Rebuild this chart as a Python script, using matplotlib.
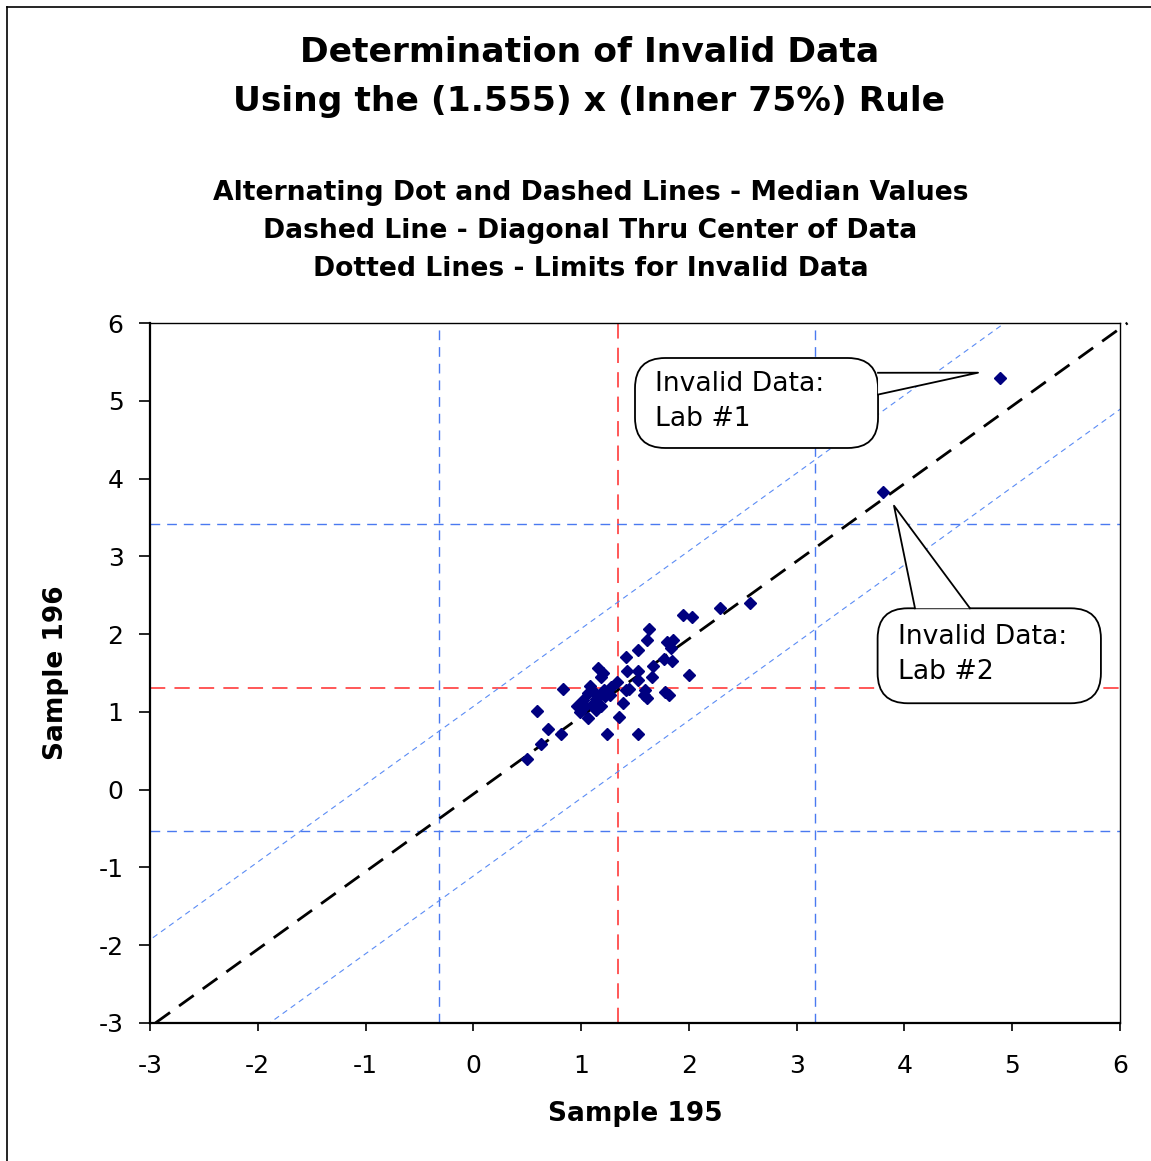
import matplotlib
matplotlib.use("Agg")
import matplotlib.pyplot as plt
from matplotlib.patches import FancyBboxPatch, Polygon
import numpy as np

plt.rcParams['font.family'] = ['DejaVu Sans']
plt.rcParams['axes.unicode_minus'] = False

# lab results
sample_195 = [0.50, 0.63, 0.69, 0.81, 0.59, 0.83, 0.96, 0.99, 1.06, 1.24,
              1.35, 1.53, 1.39, 1.58, 1.78, 2.00, 1.66, 1.67, 1.53, 1.43,
              1.42, 1.53, 1.61, 1.63, 1.77, 1.84, 1.83, 1.85, 1.80, 1.95,
              2.03, 2.29, 2.57, 1.16, 1.18, 1.08, 1.13, 1.21, 1.27, 1.33,
              1.06, 1.10, 1.18, 1.14, 1.02, 1.53, 1.59, 1.28, 1.44, 1.82,
              1.20, 1.61, 1.04, 1.14, 1.22, 1.42,
              4.89, 3.80]
sample_196 = [0.40, 0.59, 0.78, 0.71, 1.01, 1.29, 1.08, 1.00, 0.92, 0.72,
              0.94, 0.72, 1.12, 1.22, 1.26, 1.47, 1.45, 1.59, 1.52, 1.53,
              1.71, 1.80, 1.92, 2.06, 1.68, 1.65, 1.82, 1.92, 1.90, 2.25,
              2.22, 2.34, 2.40, 1.56, 1.45, 1.33, 1.24, 1.28, 1.22, 1.39,
              1.24, 1.09, 1.07, 1.16, 1.15, 1.41, 1.28, 1.32, 1.30, 1.22,
              1.50, 1.18, 1.07, 1.02, 1.20, 1.28,
              5.29, 3.83]

median_x = 1.34
median_y = 1.31
limits_x = [-0.32, 3.17]
limits_y = [-0.53, 3.42]
diag_x = [-2.95, 6.07]
diag_y = [-3.0, 6.0]
diag_offsets = [1.07, -1.11]

fig = plt.figure(figsize=(11.51, 11.61), dpi=100)
ax = fig.add_axes([150 / 1151, 1 - 1023 / 1161, 970 / 1151, 700 / 1161])

blue = '#4a7af0'
ax.axvline(median_x, color='#ff2a2a', lw=1.1, dashes=(10, 6))
ax.axhline(median_y, color='#ff2a2a', lw=1.1, dashes=(10, 6))
for v in limits_x:
    ax.axvline(v, color=blue, lw=1.0, dashes=(7, 5))
for v in limits_y:
    ax.axhline(v, color=blue, lw=1.0, dashes=(7, 5))

xx = np.array([-3.5, 6.5])
for off in diag_offsets:
    ax.plot(xx, xx + off, color='#5b8cf5', lw=0.8, dashes=(5, 4))

ax.plot(diag_x, diag_y, color='black', lw=2.0, dashes=(6.5, 4), clip_on=False, zorder=3)

ax.plot(sample_195, sample_196, linestyle='none', marker='D', ms=6.5,
        color='#000080', zorder=4)

ax.set_xlim(-3, 6)
ax.set_ylim(-3, 6)
ax.set_xticks(range(-3, 7))
ax.set_yticks(range(-3, 7))
ax.tick_params(axis='x', direction='out', length=6, width=1.2, labelsize=18, pad=16)
ax.tick_params(axis='y', direction='out', length=8, width=1.2, labelsize=18, pad=11)
for s in ['left', 'bottom']:
    ax.spines[s].set_linewidth(1.6)
for s in ['top', 'right']:
    ax.spines[s].set_linewidth(1.0)
ax.set_xlabel('Sample 195', fontsize=19, fontweight='bold', labelpad=17)
ax.set_ylabel('Sample 196', fontsize=19, fontweight='bold', labelpad=21)

# callouts
asp = 107.78 / 77.78


def callout(x0, y0, x1, y1, wedge, text):
    box = FancyBboxPatch((x0, y0), x1 - x0, y1 - y0,
                         boxstyle='round,pad=0,rounding_size=0.28',
                         mutation_aspect=asp, fc='white', ec='black', lw=1.3, zorder=6)
    ax.add_patch(box)
    ax.add_patch(Polygon(wedge, closed=True, fc='white', ec='none', zorder=7))
    ax.plot([wedge[0][0], wedge[1][0], wedge[2][0]],
            [wedge[0][1], wedge[1][1], wedge[2][1]], color='black', lw=1.3, zorder=8)
    ax.text(x0 + 0.19, (y0 + y1) / 2 + 0.02, text, fontsize=19.2, va='center', ha='left',
            linespacing=1.45, zorder=9)


callout(1.50, 4.393, 3.755, 5.55,
        [(3.755, 5.36), (4.683, 5.361), (3.755, 5.08)], 'Invalid Data:\nLab #1')
callout(3.751, 1.111, 5.823, 2.332,
        [(4.098, 2.332), (3.903, 3.651), (4.608, 2.332)], 'Invalid Data:\nLab #2')

fig.text(0.512, 1 - 53 / 1161, 'Determination of Invalid Data', ha='center', va='center',
         fontsize=24.8, fontweight='bold')
fig.text(0.512, 1 - 102 / 1161, 'Using the (1.555) x (Inner 75%) Rule', ha='center', va='center',
         fontsize=24.8, fontweight='bold')
subs = ['Alternating Dot and Dashed Lines - Median Values',
        'Dashed Line - Diagonal Thru Center of Data',
        'Dotted Lines - Limits for Invalid Data']
for i, s in enumerate(subs):
    fig.text(0.513, 1 - (193 + 38 * i) / 1161, s, ha='center', va='center',
             fontsize=19.2, fontweight='bold')

# frame around the chart
fig.add_artist(plt.Line2D([7 / 1151, 7 / 1151], [0, 1 - 7 / 1161], color='black', lw=1.2))
fig.add_artist(plt.Line2D([7 / 1151, 1], [1 - 7 / 1161, 1 - 7 / 1161], color='black', lw=1.2))

fig.savefig('out.png', dpi=100)
